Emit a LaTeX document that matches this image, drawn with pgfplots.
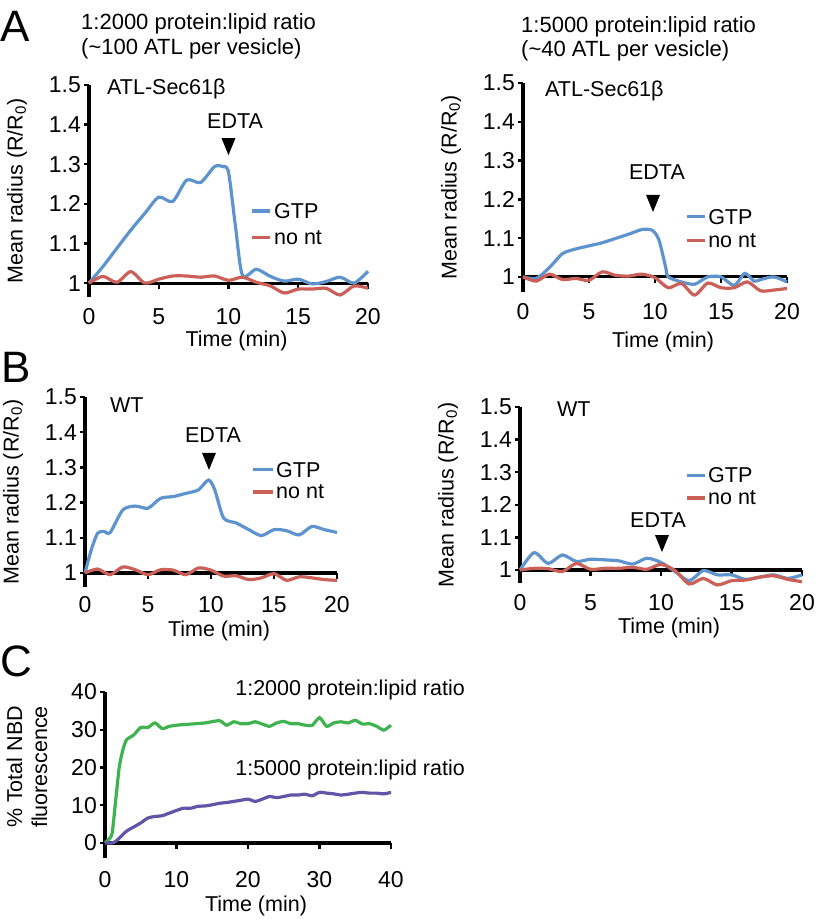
\documentclass[border=0pt]{standalone}
\usepackage{fontspec}
\setmainfont{Liberation Sans}
\usepackage{pgfplots}
\pgfplotsset{compat=1.18}
\definecolor{gtp}{RGB}{94,148,205}
\definecolor{nont}{RGB}{202,96,88}
\definecolor{grn}{RGB}{62,179,80}
\definecolor{prp}{RGB}{98,84,166}
\newcommand\mf{\fontsize{21.5}{25}\selectfont}
\newcommand\tf{\fontsize{23}{26}\selectfont}
\newcommand\ttl{\fontsize{22}{26}\selectfont}
\newcommand\bigf{\fontsize{44}{50}\selectfont}
\pgfplotsset{
  panel/.style={
    scale only axis, anchor=south west, clip=false,
    axis x line*=bottom, axis y line*=left,
    x axis line style={draw=none},
    y axis line style={line width=3.2pt},
    xtick style={draw=none},
    ytick style={line width=2.4pt, black},
    tick align=outside, major tick length=5pt,
    /pgf/number format/assume math mode=true,
    tick label style={font=\tf},
    label style={font=\mf},
    xticklabel style={anchor=base, inner sep=0pt, yshift=-23pt},
    yticklabel style={anchor=east, inner sep=0pt, xshift=-3pt},
    ylabel style={at={(axis description cs:0,0.5)}, anchor=center, yshift=72pt},
    xlabel style={at={(axis description cs:0.5,0)}, anchor=base, inner sep=0pt, xshift=8pt, yshift=-50pt},
  },
  radius/.style={panel,
    xmin=0, xmax=20, ymax=1.5,
    xtick={0,5,10,15,20}, xticklabels={0,5,10,15,20},
    ytick={1,1.1,1.2,1.3,1.4,1.5}, yticklabels={1,1.1,1.2,1.3,1.4,1.5},
    xlabel={Time (min)},
    ylabel={Mean radius (R/R\textsubscript{0})},
  },
  gline/.style={color=gtp, line width=3.2pt, smooth, tension=0.45, no markers},
  rline/.style={color=nont, line width=3.2pt, smooth, tension=0.45, no markers},
}
\begin{document}
\begin{tikzpicture}[font=\mf]
\useasboundingbox (0,0) rectangle (825pt,919pt);

% ---------------- A left
\begin{axis}[radius, at={(89pt,622pt)}, width=279pt, height=212pt, ymin=0.965]
\draw[line width=3.2pt] (axis cs:0,1) -- (axis cs:20,1);
\pgfplotsinvokeforeach{5,10,15,20}{\draw[line width=2.4pt] (axis cs:#1,1) -- ++(0pt,-6pt);}
\addplot[gline] coordinates {(0,1.0) (1,1.042) (2,1.088) (3,1.134) (4,1.176) (5,1.217) (6,1.206) (7,1.26) (8,1.254) (9,1.294) (9.6,1.294) (10,1.28) (10.5,1.143) (11,1.02) (12,1.035) (13,1.017) (14,1.005) (15,1.01) (16,0.998) (17,1.004) (18,1.015) (19,1.0) (20,1.03)};
\addplot[rline] coordinates {(0,1.0) (1,1.017) (2,1.002) (3,1.029) (4,1.0) (5,1.01) (6,1.018) (7,1.018) (8,1.015) (9,1.018) (10,1.007) (11,1.015) (12,1.002) (13,0.993) (14,0.975) (15,0.985) (16,0.985) (17,0.987) (18,0.97) (19,0.993) (20,0.987)};
\node[anchor=base west, inner sep=0pt] at (axis cs:1.29,1.475) {ATL-Sec61β};
\node[anchor=base, inner sep=0pt] at (axis cs:10.47,1.391) {EDTA};
\fill (axis cs:10,1.323) -- ++(-7pt,17pt) -- ++(14pt,0pt) -- cycle;
\draw[gtp, line width=3.2pt] (axis cs:11.68,1.182) -- (axis cs:12.97,1.182);
\draw[nont, line width=3.2pt] (axis cs:11.68,1.116) -- (axis cs:12.97,1.116);
\node[anchor=west, inner sep=0pt] at (axis cs:13.26,1.182) {GTP};
\node[anchor=west, inner sep=0pt] at (axis cs:13.26,1.116) {no nt};
\end{axis}

% ---------------- A right
\begin{axis}[radius, at={(523pt,627pt)}, width=264pt, height=209pt, ymin=0.961, xlabel style={yshift=-6pt}]
\draw[line width=3.2pt] (axis cs:0,1) -- (axis cs:20,1);
\pgfplotsinvokeforeach{5,10,15,20}{\draw[line width=2.4pt] (axis cs:#1,1) -- ++(0pt,-6pt);}
\addplot[gline] coordinates {(0,1.0) (1,0.996) (2,1.024) (3,1.06) (4,1.072) (5,1.08) (6,1.088) (7,1.099) (8,1.11) (9,1.122) (9.8,1.12) (10.3,1.095) (10.8,1.026) (11,1.0) (12,0.987) (13,0.981) (14,1.0) (15,1.0) (16,0.978) (16.8,1.009) (17.5,0.989) (18,0.993) (19,1.0) (20,0.987)};
\addplot[rline] coordinates {(0,1.0) (1,0.989) (2,1.007) (3,0.993) (4,0.996) (5,0.991) (6,1.013) (7,1.004) (8,1.002) (9,1.007) (10,0.998) (11,0.972) (12,0.983) (13,0.953) (14,0.984) (15,0.972) (16,0.972) (17,0.987) (18,0.964) (19,0.966) (20,0.97)};
\node[anchor=base west, inner sep=0pt] at (axis cs:1.67,1.464) {ATL-Sec61β};
\node[anchor=base, inner sep=0pt] at (axis cs:10.15,1.25) {EDTA};
\fill (axis cs:9.85,1.1675) -- ++(-7pt,17pt) -- ++(14pt,0pt) -- cycle;
\draw[gtp, line width=3.2pt] (axis cs:12.42,1.155) -- (axis cs:13.79,1.155);
\draw[nont, line width=3.2pt] (axis cs:12.42,1.093) -- (axis cs:13.79,1.093);
\node[anchor=west, inner sep=0pt] at (axis cs:14.02,1.155) {GTP};
\node[anchor=west, inner sep=0pt] at (axis cs:14.02,1.093) {no nt};
\end{axis}

% ---------------- B left
\begin{axis}[radius, at={(85pt,332pt)}, width=252pt, height=190pt, ymin=0.96, xticklabel style={yshift=2pt}]
\draw[line width=3.2pt] (axis cs:0,1) -- (axis cs:20,1);
\pgfplotsinvokeforeach{5,10,15,20}{\draw[line width=2.4pt] (axis cs:#1,1) -- ++(0pt,-6pt);}
\addplot[gline] coordinates {(0,1.0) (0.5,1.066) (1,1.113) (1.5,1.118) (2,1.115) (3,1.179) (4,1.19) (5,1.184) (6,1.212) (7,1.217) (8,1.226) (9,1.236) (9.8,1.264) (10.3,1.236) (11,1.156) (12,1.142) (13,1.123) (14,1.106) (15,1.123) (16,1.12) (17,1.108) (18,1.132) (19,1.123) (20,1.115)};
\addplot[rline] coordinates {(0,1.0) (1,1.011) (2,0.995) (3,1.017) (4,1.009) (5,0.995) (6,1.009) (7,1.008) (8,0.995) (9,1.014) (10,1.008) (11,0.991) (12,0.992) (13,0.981) (14,0.986) (15,0.998) (16,0.979) (17,0.989) (18,0.986) (19,0.981) (20,0.979)};
\node[anchor=base west, inner sep=0pt] at (axis cs:1.98,1.457) {WT};
\node[anchor=base, inner sep=0pt] at (axis cs:10.16,1.372) {EDTA};
\fill (axis cs:9.84,1.293) -- ++(-7pt,17pt) -- ++(14pt,0pt) -- cycle;
\draw[gtp, line width=3.2pt] (axis cs:13.33,1.293) -- (axis cs:14.92,1.293);
\draw[nont, line width=3.2pt] (axis cs:13.33,1.23) -- (axis cs:14.92,1.23);
\node[anchor=west, inner sep=0pt] at (axis cs:15.16,1.293) {GTP};
\node[anchor=west, inner sep=0pt] at (axis cs:15.16,1.23) {no nt};
\end{axis}

% ---------------- B right
\begin{axis}[radius, at={(520pt,336pt)}, width=282pt, height=176pt, ymin=0.96, xlabel style={yshift=-1pt}]
\draw[line width=3.2pt] (axis cs:0,1) -- (axis cs:20,1);
\pgfplotsinvokeforeach{5,10,15,20}{\draw[line width=2.4pt] (axis cs:#1,1) -- ++(0pt,-6pt);}
\addplot[gline] coordinates {(0,1.0) (1,1.053) (2,1.02) (3,1.046) (4,1.026) (5,1.033) (6,1.031) (7,1.028) (8,1.018) (9,1.036) (10,1.023) (11,0.995) (12,0.967) (13,0.998) (14,0.985) (15,0.985) (16,0.971) (17,0.978) (18,0.985) (19,0.974) (20,0.985)};
\addplot[rline] coordinates {(0,1.0) (1,1.005) (2,1.004) (3,0.995) (4,1.02) (5,1.002) (6,1.005) (7,1.005) (8,1.008) (9,1.002) (10,1.017) (11,0.998) (12,0.957) (13,0.974) (14,0.954) (15,0.967) (16,0.969) (17,0.978) (18,0.982) (19,0.971) (20,0.964)};
\node[anchor=base west, inner sep=0pt] at (axis cs:2.62,1.472) {WT};
\node[anchor=base, inner sep=0pt] at (axis cs:9.79,1.129) {EDTA};
\fill (axis cs:10.07,1.055) -- ++(-7pt,17pt) -- ++(14pt,0pt) -- cycle;
\draw[gtp, line width=3.2pt] (axis cs:11.84,1.291) -- (axis cs:13.12,1.291);
\draw[nont, line width=3.2pt] (axis cs:11.84,1.221) -- (axis cs:13.12,1.221);
\node[anchor=west, inner sep=0pt] at (axis cs:13.33,1.291) {GTP};
\node[anchor=west, inner sep=0pt] at (axis cs:13.33,1.221) {no nt};
\end{axis}

% ---------------- C
\begin{axis}[panel, at={(105pt,61pt)}, width=286pt, height=166pt,
  xmin=0, xmax=40, ymin=-4, ymax=40,
  xtick={0,10,20,30,40}, xticklabels={0,10,20,30,40},
  ytick={0,10,20,30,40}, yticklabels={0,10,20,30,40},
  xticklabel style={yshift=-2pt},
  xlabel={Time (min)},
  xlabel style={yshift=-3pt},
  ylabel={\% Total NBD\\fluorescence},
  ylabel style={align=center, yshift=6pt, xshift=8pt}]
\draw[line width=3.2pt] (axis cs:0,0) -- (axis cs:40,0);
\pgfplotsinvokeforeach{10,20,30,40}{\draw[line width=2.4pt] (axis cs:#1,0) -- ++(0pt,-6pt);}
\addplot[color=grn, line width=3.2pt, smooth, tension=0.4, no markers] coordinates {(0,0) (0.5,0.9) (1,2.6) (1.5,11.4) (2,20.2) (2.5,24.6) (3,27.3) (4,28.6) (5,30.6) (6,30.6) (7,31.8) (8,30.3) (9,30.9) (10,31.2) (12,31.5) (14,31.8) (16,32.4) (17,31.2) (18,32.1) (19,31.6) (20,31.6) (21,32.1) (22,31.5) (23,30.9) (24,31.8) (25,32.2) (26,31.6) (27,31.6) (28,31.2) (29,31.2) (30,33.2) (31,30.9) (32,31.8) (33,32.1) (34,31.8) (35,32.5) (36,31.5) (37,31.6) (38,30.9) (39,29.9) (40,31.2)};
\addplot[color=prp, line width=3.2pt, smooth, tension=0.4, no markers] coordinates {(0,0) (1,0) (1.5,0.4) (2,1.3) (3,3.1) (4,4.2) (5,5.3) (6,6.6) (7,7.0) (8,7.2) (9,7.9) (10,8.6) (11,9.2) (12,9.2) (13,9.7) (14,9.8) (15,10.1) (16,10.5) (17,10.7) (18,11.0) (19,11.3) (20,11.6) (21,11.0) (22,11.6) (23,12.3) (24,12.0) (25,12.3) (26,12.7) (27,12.7) (28,12.9) (29,12.5) (30,13.4) (31,13.2) (32,13.0) (33,12.7) (34,12.9) (35,13.2) (36,13.4) (37,13.2) (38,13.2) (39,13.0) (40,13.4)};
\node[anchor=base west, inner sep=0pt] at (axis cs:18.2,39.2) {1:2000 protein:lipid ratio};
\node[anchor=base west, inner sep=0pt] at (axis cs:18.2,18.0) {1:5000 protein:lipid ratio};
\end{axis}

% ---------------- titles and panel letters
\node[anchor=base west, inner sep=0pt, font=\ttl] at (81pt,889pt) {1:2000 protein:lipid ratio};
\node[anchor=base west, inner sep=0pt, font=\ttl] at (81pt,864pt) {(\symbol{126}100 ATL per vesicle)};
\node[anchor=base west, inner sep=0pt, font=\ttl] at (521pt,886pt) {1:5000 protein:lipid ratio};
\node[anchor=base west, inner sep=0pt, font=\ttl] at (521pt,862pt) {(\symbol{126}40 ATL per vesicle)};
\node[anchor=base west, inner sep=0pt, font=\bigf] at (0pt,877pt) {A};
\node[anchor=base west, inner sep=0pt, font=\bigf] at (1pt,536pt) {B};
\node[anchor=base west, inner sep=0pt, font=\bigf] at (0pt,242pt) {C};
\end{tikzpicture}
\end{document}
